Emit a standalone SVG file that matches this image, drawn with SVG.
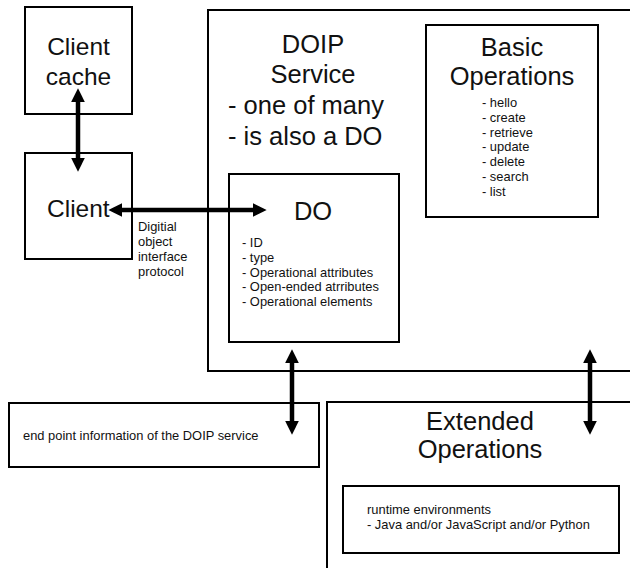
<svg xmlns="http://www.w3.org/2000/svg" width="630" height="568" viewBox="0 0 630 568">
<defs>
<style>
.box{fill:#fff;stroke:#000;stroke-width:2}
.big{font-family:"Liberation Sans",Arial,sans-serif;font-size:25.5px;fill:#111}
.sm{font-family:"Liberation Sans",Arial,sans-serif;font-size:12.9px;fill:#111}
.arr{stroke:#000;stroke-width:4.5;fill:none;marker-start:url(#ah);marker-end:url(#ah)}
</style>
<marker id="ah" markerUnits="userSpaceOnUse" markerWidth="14" markerHeight="14" refX="2" refY="6" orient="auto-start-reverse" viewBox="0 0 12 12">
<path d="M0,0 L12,6 L0,12 z" fill="#000"/>
</marker>
</defs>
<rect width="630" height="568" fill="#fff"/>
<g id="client-cache">
<rect class="box" x="25" y="7" width="107" height="107"/>
<text class="big" x="78.5" y="55" text-anchor="middle" style="font-size:24.5px">Client</text>
<text class="big" x="78.5" y="85" text-anchor="middle" style="font-size:24.5px">cache</text>
</g>
<g id="client">
<rect class="box" x="25" y="153" width="107" height="106"/>
<text class="big" x="47" y="217" style="font-size:24.5px">Client</text>
</g>
<g id="doip-service">
<rect class="box" x="208" y="10" width="430" height="361"/>
<text class="big" x="313" y="53" text-anchor="middle">DOIP</text>
<text class="big" x="313" y="83" text-anchor="middle">Service</text>
<text class="big" x="228" y="114">-  one of many</text>
<text class="big" x="228" y="145">-  is also a DO</text>
</g>
<g id="basic-operations">
<rect class="box" x="426" y="25" width="172" height="192"/>
<text class="big" x="512" y="56" text-anchor="middle">Basic</text>
<text class="big" x="512" y="85" text-anchor="middle">Operations</text>
<text class="sm" x="482" y="107">- hello</text>
<text class="sm" x="482" y="121.8">- create</text>
<text class="sm" x="482" y="136.6">- retrieve</text>
<text class="sm" x="482" y="151.4">- update</text>
<text class="sm" x="482" y="166.2">- delete</text>
<text class="sm" x="482" y="181">- search</text>
<text class="sm" x="482" y="195.8">- list</text>
</g>
<g id="do">
<rect class="box" x="229" y="174" width="170" height="168"/>
<text class="big" x="313" y="220" text-anchor="middle">DO</text>
<text class="sm" x="242" y="247">- ID</text>
<text class="sm" x="242" y="261.8">- type</text>
<text class="sm" x="242" y="276.6">- Operational attributes</text>
<text class="sm" x="242" y="291.4">- Open-ended atrributes</text>
<text class="sm" x="242" y="306.2">- Operational elements</text>
</g>
<g id="endpoint">
<rect class="box" x="9" y="403" width="310" height="64"/>
<text class="sm" x="23" y="440">end point information of the DOIP service</text>
</g>
<g id="extended-operations">
<rect class="box" x="327" y="402" width="311" height="180"/>
<text class="big" x="480" y="430" text-anchor="middle">Extended</text>
<text class="big" x="480" y="458" text-anchor="middle">Operations</text>
<rect class="box" x="343" y="486" width="276" height="67"/>
<text class="sm" x="367" y="514">runtime environments</text>
<text class="sm" x="367" y="528.8">- Java and/or JavaScript and/or Python</text>
</g>
<g id="protocol-label">
<text class="sm" x="138" y="231">Digitial</text>
<text class="sm" x="138" y="246">object</text>
<text class="sm" x="138" y="261">interface</text>
<text class="sm" x="138" y="276">protocol</text>
</g>
<g id="connectors">
<line class="arr" x1="78" y1="100" x2="78" y2="160"/>
<line class="arr" x1="120" y1="210" x2="255" y2="210"/>
<line class="arr" x1="292" y1="361" x2="292" y2="423"/>
<line class="arr" x1="590" y1="361" x2="590" y2="423"/>
</g>
</svg>
